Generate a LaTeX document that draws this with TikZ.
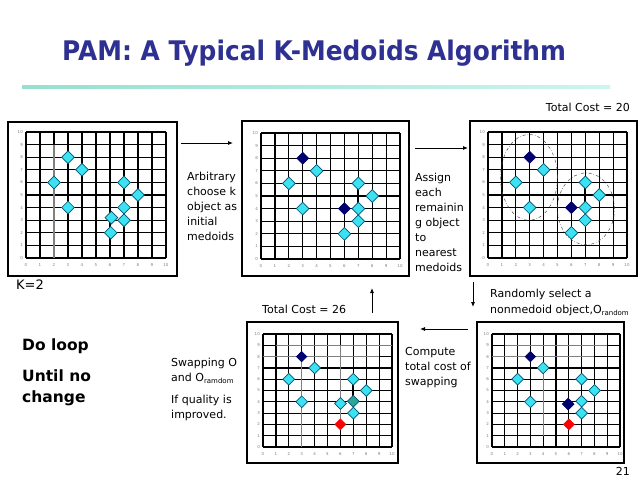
\documentclass[tikz,border=0pt]{standalone}
\usepackage{fontspec}
\setmainfont{DejaVu Sans}
\newfontfamily\titlefont{DejaVu Sans}[FakeStretch=0.92]
\usetikzlibrary{shapes.geometric, arrows.meta}

\definecolor{titleblue}{RGB}{46,49,146}
\definecolor{ptcyan}{RGB}{60,225,242}
\definecolor{ptedge}{RGB}{0,85,115}
\definecolor{ptnavy}{RGB}{0,0,110}
\definecolor{ptteal}{RGB}{45,165,150}
\definecolor{rulea}{RGB}{150,224,208}
\definecolor{ruleb}{RGB}{205,244,240}

\newcommand{\osub}[1]{\raisebox{-2.5pt}{\fontsize{7}{7}\selectfont #1}}
\newcommand{\gridten}{%
    \foreach \k in {0,...,10}{%
        \draw[gridline] (\k,0) -- (\k,10);
        \draw[gridline] (0,\k) -- (10,\k);
        \node[tick] (tx\k) at ([yshift=-7pt]\k,0) {\k};
        \node[tick, anchor=east] (ty\k) at ([xshift=-3pt]0,\k) {\k};
    }%
}

\begin{document}
\begin{tikzpicture}[
                x=1pt,
                y=-1pt,
                > ={Latex[length=5pt, width=4pt]},
                gridline/.style={black, line width=1.2pt},
                plotframe/.style={draw=black, line width=1.1pt},
                tick/.style={text=gray, inner sep=0, font=\fontsize{4}{4}\selectfont},
                trail/.style={gray, line width=1.4pt},
                edgebar/.style={black, line width=1.8pt},
                obj/.style={diamond, draw=ptedge, fill=ptcyan, line width=0.7pt, inner sep=0, minimum size=13pt},
                medoid/.style={obj, draw=ptnavy, fill=ptnavy, minimum size=12pt},
                picked/.style={obj, draw=red, fill=red, minimum size=11pt},
                trial/.style={obj, fill=ptteal},
                cluster/.style={draw=black!70, line width=0.5pt, dash dot},
                note/.style={anchor=north west, align=left, inner sep=0, font=\fontsize{11}{15}\selectfont},
                flow/.style={->, black, line width=0.8pt},
            ]
            \fill[white] (0,0) rectangle (638,479);

            \node[anchor=base west, inner sep=0, text=titleblue, font=\titlefont\bfseries\fontsize{27}{27}\selectfont] (title) at (62,60) {PAM: A Typical K-Medoids Algorithm};
            \shade[left color=rulea, right color=ruleb] (22,85) rectangle (610,88);

            \draw[plotframe] (8,122) rectangle (177,276);
            \begin{scope}[shift={(26,258)}, x=14pt, y=12.6pt]
                \gridten
                \draw[trail] (2,0) -- (2,9);
                \foreach \x/\y [count=\i] in {3/8, 4/7, 2/6, 3/4, 7/6, 8/5, 7/4, 7/3, 6.1/3.2, 6.05/2}
                    \node[obj] (a\i) at (\x,\y) {};
            \end{scope}

            \draw[plotframe] (242,121) rectangle (409,276);
            \begin{scope}[shift={(261,259)}, x=13.9pt, y=12.6pt]
                \gridten
                \draw[edgebar] (7,4) -- (7,6);
                \foreach \x/\y [count=\i] in {4/7, 2/6, 3/4, 7/6, 8/5, 7/4, 7/3, 6/2}
                    \node[obj] (b\i) at (\x,\y) {};
                \node[medoid] (bm1) at (3,8) {};
                \node[medoid] (bm2) at (6,4) {};
            \end{scope}

            \draw[plotframe] (470,121) rectangle (637,276);
            \begin{scope}[shift={(488,258)}, x=13.9pt, y=12.6pt]
                \gridten
                \draw[edgebar] (7,4) -- (7,6);
                \draw[cluster] (2.95,6.4) ellipse [x radius=2.05, y radius=3.4];
                \draw[cluster] (7.05,3.9) ellipse [x radius=2.05, y radius=2.85];
                \foreach \x/\y [count=\i] in {4/7, 2/6, 3/4, 7/6, 8/5, 7/4, 7/3, 6/2}
                    \node[obj] (c\i) at (\x,\y) {};
                \node[medoid] (cm1) at (3,8) {};
                \node[medoid] (cm2) at (6,4) {};
            \end{scope}

            \draw[plotframe] (247,322) rectangle (398,463);
            \begin{scope}[shift={(263,447)}, x=12.9pt, y=11.3pt, obj/.append style={minimum size=12pt}]
                \gridten
                \draw[trail] (1,9) -- (10,9);
                \draw[trail] (0,8) -- (9,8);
                \draw[trail] (3,8) -- (3,0);
                \draw[trail] (6,9) -- (6,2);
                \draw[edgebar] (7,4) -- (7,6);
                \foreach \x/\y [count=\i] in {4/7, 2/6, 3/4, 7/6, 8/5, 6/3.85, 7/3}
                    \node[obj] (d\i) at (\x,\y) {};
                \node[trial] (dt) at (7,4.05) {};
                \node[medoid, minimum size=10.5pt] (dm1) at (3,8) {};
                \node[picked] (dr) at (6,2) {};
            \end{scope}

            \draw[plotframe] (477,322) rectangle (624,463);
            \begin{scope}[shift={(492,447)}, x=12.8pt, y=11.3pt, obj/.append style={minimum size=12pt}]
                \gridten
                \draw[trail] (1,9) -- (9,9);
                \draw[trail] (0,8) -- (8,8);
                \draw[trail] (4,7) -- (4,1);
                \foreach \x/\y [count=\i] in {4/7, 2/6, 3/4, 7/6, 8/5, 7/4.05, 7/3}
                    \node[obj] (e\i) at (\x,\y) {};
                \node[medoid, minimum size=10.5pt] (em1) at (3,8) {};
                \node[medoid] (em2) at (5.95,3.8) {};
                \node[picked] (er) at (6,2) {};
            \end{scope}

            \node[note] (arbitrary) at (187,171.5) {Arbitrary\\choose k\\object as\\initial\\medoids};
            \node[note] (assign) at (415,172.5) {Assign\\each\\remainin\\g object\\to\\nearest\\medoids};
            \node[note, anchor=east] (cost20) at (630,107) {Total Cost = 20};
            \node[note, anchor=west] (cost26) at (262,309) {Total Cost = 26};
            \node[note, font=\fontsize{11}{16}\selectfont] (randomly) at (490,288.5) {Randomly select a\\nonmedoid object,O\osub{random}};
            \node[note] (compute) at (405,347.5) {Compute\\total cost of\\swapping};
            \node[note] (swapping) at (171,357.5) {Swapping O\\and O\osub{ramdom}};
            \node[note] (quality) at (171,394.5) {If quality is\\improved.};
            \node[note, anchor=west, font=\fontsize{13}{13}\selectfont] (k) at (16,285) {K=2};
            \node[note, anchor=west, font=\bfseries\fontsize{15.5}{21}\selectfont] (doloop) at (22,346) {Do loop};
            \node[note, font=\bfseries\fontsize{15.5}{21}\selectfont] (until) at (22,369.8) {Until no\\change};
            \node[note, anchor=east] (page) at (630,471) {21};

            \coordinate (s1) at (181,143);
            \coordinate (e1) at (233,143);
            \coordinate (s2) at (415,148);
            \coordinate (e2) at (468,148);
            \coordinate (s3) at (473,282);
            \coordinate (e3) at (473,307);
            \coordinate (s4) at (468,329);
            \coordinate (e4) at (420,329);
            \coordinate (s5) at (372,313);
            \coordinate (e5) at (372,288);
            \draw[flow] (s1) -- (e1);
            \draw[flow] (s2) -- (e2);
            \draw[flow] (s3) -- (e3);
            \draw[flow] (s4) -- (e4);
            \draw[flow] (s5) -- (e5);

            \useasboundingbox (0,0) rectangle (638,479);
        \end{tikzpicture}
\end{document}
